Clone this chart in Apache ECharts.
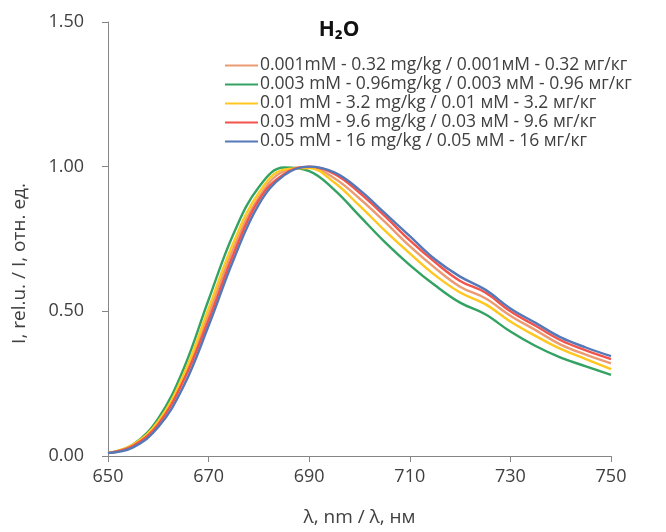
<!DOCTYPE html>
<html>
<head>
<meta charset="utf-8">
<script src="https://cdn.jsdelivr.net/npm/echarts@6/dist/echarts.min.js"></script>
<style>html,body{margin:0;padding:0;background:#fff}#c{width:666px;height:532px}</style>
</head>
<body>
<div id="c"></div>
<script>
const wavelengths = [650,655,660,665,670,675,680,685,690,695,700,705,710,715,720,725,730,735,740,745,750];
const seriesNames = [
  '0.001mM - 0.32 mg/kg / 0.001мМ - 0.32 мг/кг',
  '0.003 mM - 0.96mg/kg / 0.003 мМ - 0.96 мг/кг',
  '0.01 mM - 3.2 mg/kg / 0.01 мМ - 3.2 мг/кг',
  '0.03 mM - 9.6 mg/kg / 0.03 мМ - 9.6 мг/кг',
  '0.05 mM - 16 mg/kg / 0.05 мМ - 16 мг/кг'
];
const s001 = [0.01,0.037,0.115,0.27,0.49,0.72,0.895,0.985,0.998,0.96,0.89,0.81,0.725,0.65,0.585,0.545,0.485,0.435,0.385,0.35,0.32];
const s003 = [0.01,0.04,0.13,0.30,0.54,0.77,0.93,0.997,0.985,0.92,0.83,0.74,0.66,0.59,0.53,0.49,0.43,0.38,0.34,0.31,0.28];
const s01  = [0.01,0.04,0.12,0.28,0.51,0.74,0.91,0.99,0.995,0.945,0.865,0.78,0.70,0.625,0.565,0.525,0.465,0.415,0.37,0.335,0.30];
const s03  = [0.01,0.035,0.11,0.26,0.47,0.70,0.885,0.975,1.0,0.975,0.91,0.83,0.745,0.67,0.605,0.565,0.50,0.45,0.40,0.365,0.335];
const s05  = [0.01,0.03,0.10,0.24,0.45,0.68,0.87,0.97,1.0,0.98,0.92,0.84,0.76,0.68,0.62,0.575,0.51,0.46,0.41,0.375,0.345];
const allValues = [s001, s003, s01, s03, s05];
const colors = ['#EB9A72','#33A363','#FFC71F','#F2544C','#5578B8'];
const yTicks = [0, 0.5, 1.0, 1.5];
const xTicks = [650, 670, 690, 710, 730, 750];

const chart = echarts.init(document.getElementById('c'));
const font = "'Open Sans', sans-serif";
chart.setOption({
  animation: false,
  grid: {left: 108, right: 55, top: 22, bottom: 75},
  title: {text: 'H₂O', left: 334, top: 15, textAlign: 'center',
    textStyle: {fontFamily: font, fontSize: 21, fontWeight: 'bold', color: '#111'}},
  legend: {
    orient: 'vertical', left: 220, top: 51, itemGap: 0,
    itemWidth: 33, itemHeight: 2, icon: 'rect',
    textStyle: {fontFamily: font, fontSize: 17.5, lineHeight: 19, color: '#404040', padding: [0,0,0,-3]},
    data: seriesNames
  },
  xAxis: {
    type: 'value', min: xTicks[0], max: xTicks[xTicks.length-1], interval: 20,
    name: 'λ, nm / λ, нм', nameLocation: 'middle', nameGap: 52,
    nameTextStyle: {fontFamily: font, fontSize: 19, color: '#404040'},
    axisLine: {lineStyle: {color: '#868686'}},
    axisTick: {show: true, length: 6, lineStyle: {color: '#868686'}},
    axisLabel: {fontFamily: font, fontSize: 18, color: '#404040', margin: 12},
    splitLine: {show: false}
  },
  yAxis: {
    type: 'value', min: yTicks[0], max: yTicks[yTicks.length-1], interval: 0.5,
    axisLine: {show: true, lineStyle: {color: '#868686'}},
    axisTick: {show: true, length: 6, lineStyle: {color: '#868686'}},
    axisLabel: {fontFamily: font, fontSize: 18, color: '#404040', margin: 24,
      formatter: v => v.toFixed(2)},
    splitLine: {show: false}
  },
  graphic: [{
    type: 'text', left: 10, top: 183, rotation: Math.PI/2,
    style: {text: 'I, rel.u. / I, отн. ед.', font: "19px 'Open Sans', sans-serif", fill: '#404040'}
  }],
  series: allValues.map((vals, i) => ({
    name: seriesNames[i], type: 'line', smooth: 0.4, symbol: 'none',
    lineStyle: {width: 2.4, color: colors[i]}, itemStyle: {color: colors[i]},
    data: wavelengths.map((w, j) => [w, vals[j]]),
    z: 2 + i
  }))
});
</script>
</body>
</html>
